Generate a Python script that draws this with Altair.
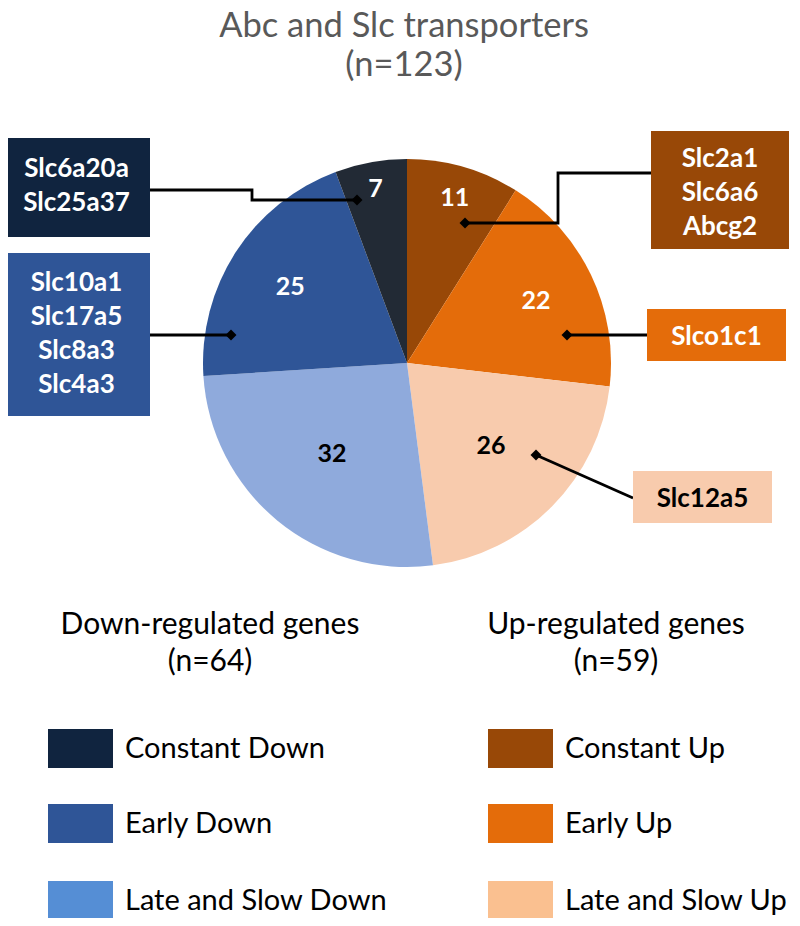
import altair as alt
import pandas as pd

# ---------------- data ----------------
categories = ["Constant Up", "Early Up", "Late and Slow Up",
              "Late and Slow Down", "Early Down", "Constant Down"]
counts = [11, 22, 26, 32, 25, 7]
direction = ["Up", "Up", "Up", "Down", "Down", "Down"]

title_text = "Abc and Slc transporters"
group_titles = {"Down": "Down-regulated genes", "Up": "Up-regulated genes"}

callout_genes = {
    "Constant Down": ["Slc6a20a", "Slc25a37"],
    "Early Down": ["Slc10a1", "Slc17a5", "Slc8a3", "Slc4a3"],
    "Constant Up": ["Slc2a1", "Slc6a6", "Abcg2"],
    "Early Up": ["Slco1c1"],
    "Late and Slow Up": ["Slc12a5"],
}
legend_down = ["Constant Down", "Early Down", "Late and Slow Down"]
legend_up = ["Constant Up", "Early Up", "Late and Slow Up"]

# ---------------- styles ----------------
FONT = "Lato"
slice_color = {"Constant Up": "#984807", "Early Up": "#E46C0A",
               "Late and Slow Up": "#F8CBAD", "Late and Slow Down": "#8FAADC",
               "Early Down": "#2F5597", "Constant Down": "#222A35"}
legend_color = {"Constant Up": "#984807", "Early Up": "#E46C0A",
                "Late and Slow Up": "#FAC090", "Late and Slow Down": "#558ED5",
                "Early Down": "#2F5597", "Constant Down": "#10243F"}
box_color = {"Constant Up": "#984807", "Early Up": "#E46C0A",
             "Late and Slow Up": "#F8CBAD", "Early Down": "#2F5597",
             "Constant Down": "#10243F"}
dark_text = {"Late and Slow Up", "Late and Slow Down"}
label_radius = {"Constant Up": 172, "Early Up": 143, "Late and Slow Up": 118,
                "Late and Slow Down": 118, "Early Down": 139, "Constant Down": 177}

# ---------------- layout (page pixels, text y = baseline of first line) ----------------
W, H = 784, 910
CX, CY, R = 407, 363, 204
LINE_H = 34
box_layout = {
    "Constant Down": dict(x0=3, x1=150, y0=138, y1=237, ty=177,
                          path=[(150, 190), (252, 190), (252, 200), (357, 200)]),
    "Early Down": dict(x0=3, x1=150, y0=253, y1=416, ty=291,
                       path=[(150, 335), (231, 335)]),
    "Constant Up": dict(x0=651, x1=789, y0=131, y1=249, ty=167,
                        path=[(651, 173), (558, 173), (558, 223), (465, 223)]),
    "Early Up": dict(x0=647, x1=786, y0=309, y1=361, ty=345,
                     path=[(647, 335), (567, 335)]),
    "Late and Slow Up": dict(x0=633, x1=772, y0=471, y1=523, ty=507,
                             path=[(633, 498), (536, 455)]),
}
legend_col_x = {"Down": 48, "Up": 488}
legend_row_y = [729, 804, 881]
SQ_W, SQ_H = 65, 39
header_x = {"Down": 210, "Up": 616}
header_y = 634
title_xy = (404, 37)

xs = alt.Scale(domain=[8, 8 + W], range=[0, W], nice=False, zero=False)
ys = alt.Scale(domain=[8, 8 + H], range=[0, H], nice=False, zero=False)


def X(f):
    return alt.X(f, type="quantitative", scale=xs, axis=None)


def Y(f):
    return alt.Y(f, type="quantitative", scale=ys, axis=None)


TOTAL = sum(counts)
theta_scale = alt.Scale(domain=[0, TOTAL], range=[0, 6.283185307179586])

# ---------------- tables ----------------
df_pie = pd.DataFrame({
    "cat": categories,
    "n": counts,
    "idx": list(range(len(categories))),
    "hex": [slice_color[c] for c in categories],
    "tcol": ["black" if c in dark_text else "white" for c in categories],
    "r": [label_radius[c] for c in categories],
})

box_rows, path_rows = [], []
for c, genes in callout_genes.items():
    L = box_layout[c]
    box_rows.append(dict(cat=c, x0=L["x0"], x1=L["x1"], y0=L["y0"], y1=L["y1"],
                         tx=(L["x0"] + L["x1"]) / 2, ty=L["ty"],
                         txt="\n".join(genes), hex=box_color[c],
                         tcol="black" if c in dark_text else "white"))
    for k, (px, py) in enumerate(L["path"]):
        path_rows.append(dict(cat=c, k=k, x=px, y=py,
                              end=k == len(L["path"]) - 1))
df_box = pd.DataFrame(box_rows)
df_path = pd.DataFrame(path_rows)
df_end = df_path[df_path["end"]]

leg_rows = []
for d, lst in (("Down", legend_down), ("Up", legend_up)):
    for i, c in enumerate(lst):
        x0 = legend_col_x[d]
        y0 = legend_row_y[i]
        leg_rows.append(dict(cat=c, x0=x0, x1=x0 + SQ_W, y0=y0, y1=y0 + SQ_H,
                             tx=x0 + SQ_W + 12, ty=y0 + 29,
                             hex=legend_color[c]))
df_leg = pd.DataFrame(leg_rows)

totals = {d: sum(n for n, dd in zip(counts, direction) if dd == d) for d in ("Down", "Up")}
df_head = pd.DataFrame([
    dict(x=header_x[d], y=header_y, txt=f"{group_titles[d]}\n(n={totals[d]})")
    for d in ("Down", "Up")
])
df_title = pd.DataFrame([dict(x=title_xy[0], y=title_xy[1],
                              txt=f"{title_text}\n(n={TOTAL})")])

# ---------------- layers ----------------
pie = alt.Chart(df_pie).mark_arc(outerRadius=R).encode(
    theta=alt.Theta("n:Q", stack=True, scale=theta_scale),
    order=alt.Order("idx:Q"),
    color=alt.Color("hex:N", scale=None),
    x=alt.value(CX - 8), y=alt.value(CY - 8),
)
pie_labels = alt.Chart(df_pie).transform_window(
    cum="sum(n)", sort=[alt.SortField("idx")], frame=[None, 0]
).transform_calculate(
    mid="datum.cum - datum.n / 2"
).mark_text(
    font=FONT, fontSize=25, fontWeight="bold", baseline="middle", align="center"
).encode(
    theta=alt.Theta("mid:Q", stack=None, scale=theta_scale),
    radius=alt.Radius("r:Q", scale=None),
    text=alt.Text("n:Q"),
    color=alt.Color("tcol:N", scale=None),
    x=alt.value(CX - 8), y=alt.value(CY - 8),
)

boxes = alt.Chart(df_box).mark_rect().encode(
    x=X("x0"), x2="x1", y=Y("y0"), y2="y1",
    color=alt.Color("hex:N", scale=None),
)
box_text = alt.Chart(df_box).mark_text(
    font=FONT, fontSize=26, fontWeight="bold", lineBreak="\n", lineHeight=LINE_H,
    align="center", baseline="alphabetic"
).encode(x=X("tx"), y=Y("ty"), text="txt:N", color=alt.Color("tcol:N", scale=None))

connectors = alt.Chart(df_path).mark_line(color="black", strokeWidth=2.8).encode(
    x=X("x"), y=Y("y"), detail="cat:N", order="k:Q"
)
diamonds = alt.Chart(df_end).mark_point(
    shape="diamond", filled=True, size=120, color="black", opacity=1
).encode(x=X("x"), y=Y("y"))

leg_sq = alt.Chart(df_leg).mark_rect().encode(
    x=X("x0"), x2="x1", y=Y("y0"), y2="y1",
    color=alt.Color("hex:N", scale=None),
)
leg_txt = alt.Chart(df_leg).mark_text(
    font=FONT, fontSize=29, align="left", baseline="alphabetic", color="black"
).encode(x=X("tx"), y=Y("ty"), text="cat:N")

heads = alt.Chart(df_head).mark_text(
    font=FONT, fontSize=30, align="center", baseline="alphabetic",
    lineBreak="\n", lineHeight=37, color="black"
).encode(x=X("x"), y=Y("y"), text="txt:N")

title = alt.Chart(df_title).mark_text(
    font=FONT, fontSize=34.5, align="center", baseline="alphabetic",
    lineBreak="\n", lineHeight=39, color="#595959"
).encode(x=X("x"), y=Y("y"), text="txt:N")

chart = alt.layer(
    pie, pie_labels, connectors, diamonds, boxes, box_text,
    leg_sq, leg_txt, heads, title
).properties(
    width=W, height=H, padding=0, background="white",
    autosize=alt.AutoSizeParams(type="none"),
).configure_view(stroke=None)

chart.save("out.html", embed_options={"renderer": "svg", "actions": False})
